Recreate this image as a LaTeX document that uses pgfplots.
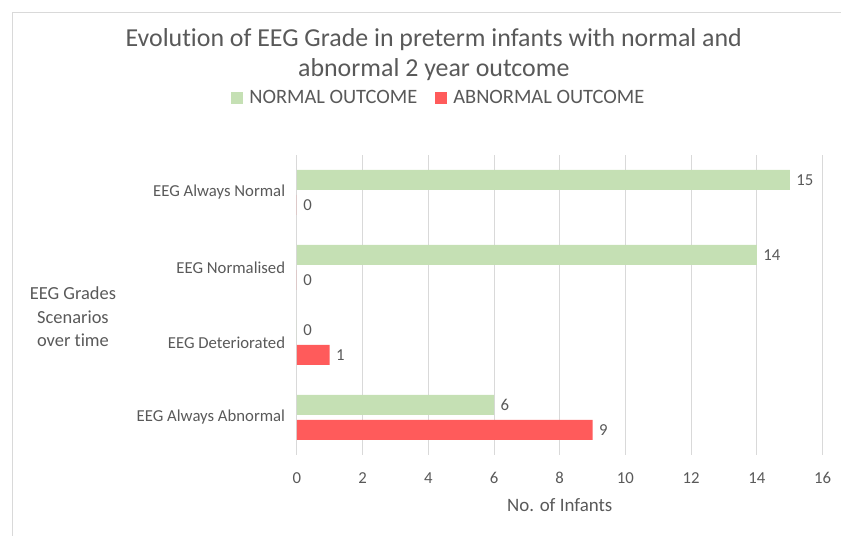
\documentclass[border=0pt]{standalone}
\usepackage{pgfplots}
\pgfplotsset{compat=1.18}
\usepackage{fontspec}
\setmainfont{Carlito}[Ligatures={NoCommon}]
\definecolor{txt}{HTML}{595959}
\definecolor{gnorm}{HTML}{C5E0B4}
\definecolor{rabn}{HTML}{FF5B5B}
\definecolor{gridc}{HTML}{D9D9D9}
\begin{document}
\begin{tikzpicture}[x=1bp,y=1bp]
\begin{axis}[
  scale only axis, width=526bp, height=300bp,
  xbar, bar width=20bp,
  xmin=0, xmax=16, ymin=-0.5, ymax=3.5,
  xtick={0,2,...,16},
  ytick={0,1,2,3},
  yticklabels={EEG Always Abnormal, EEG Deteriorated, EEG Normalised, EEG Always Normal},
  extra y ticks={-0.5,0.5,1.5,2.5,3.5},
  extra y tick labels={},
  extra y tick style={major tick length=5bp, tick align=outside, tick style={draw=gridc, line width=0.8bp}},
  ytick style={draw=none}, xtick style={draw=none},
  xmajorgrids, grid style={draw=gridc, line width=0.8bp},
  axis y line*=left, axis x line*=bottom,
  x axis line style={draw=none},
  y axis line style={draw=gridc, line width=0.8bp, -},
  /pgf/number format/assume math mode=true,
  tick label style={font=\fontsize{16.8}{19}\selectfont, text=txt},
  xticklabel style={yshift=-14bp},
  yticklabel style={xshift=-4bp},
  nodes near coords,
  nodes near coords style={font=\fontsize{16.8}{19}\selectfont, text=txt, anchor=west, xshift=3bp},
  legend style={at={(0.27,1.19)}, anchor=center, draw=none, legend columns=2,
    font=\fontsize{20.5}{22}\selectfont, text=txt, inner sep=0pt,
    /tikz/every odd column/.append style={column sep=4bp},
    /tikz/every even column/.append style={column sep=16bp}},
  legend image code/.code={\fill[#1] (0bp,-6bp) rectangle (12bp,6bp);},
  clip=false,
]
\addplot[fill=gnorm, draw=none, bar shift=12.5bp] coordinates {(6,0) (0,1) (14,2) (15,3)};
\addlegendentry{NORMAL OUTCOME}
\addplot[fill=rabn, draw=none, bar shift=-12.5bp] coordinates {(9,0) (1,1) (0,2) (0,3)};
\addlegendentry{ABNORMAL OUTCOME}
\end{axis}
\begin{scope}[shift={(current axis.south west)}]
\draw[gridc, line width=0.8bp] (-285,-81) -- (-285,443) -- (544,443);
\path[use as bounding box] (-297,-81) rectangle (544,455);
\node[text=txt, font=\fontsize{26}{30}\selectfont, align=center] at (137,400) {Evolution of EEG Grade in preterm infants with normal and\\abnormal 2 year outcome};
\node[text=txt, font=\fontsize{18.5}{23.5}\selectfont, align=center] at (-224,138) {EEG Grades\\Scenarios\\over time};
\node[text=txt, font=\fontsize{19}{21}\selectfont] at (263,-50) {No. of Infants};
\end{scope}
\end{tikzpicture}
\end{document}
